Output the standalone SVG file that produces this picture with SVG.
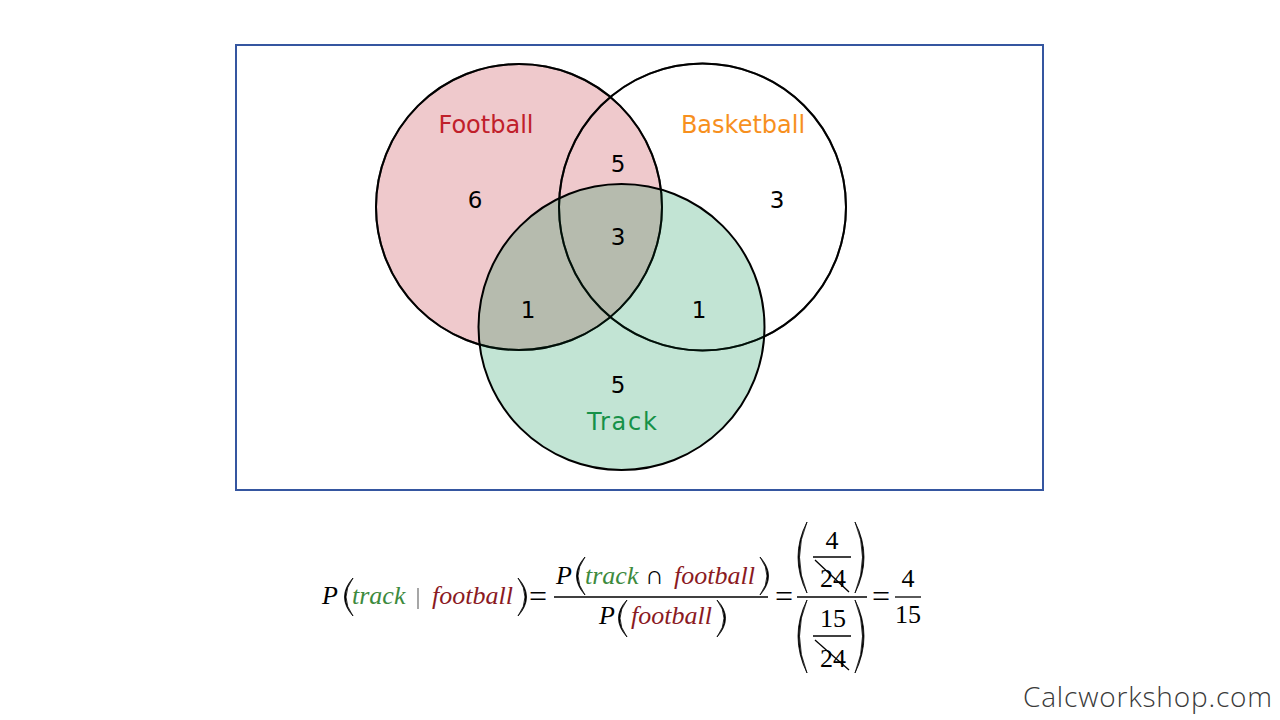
<svg xmlns="http://www.w3.org/2000/svg" width="1280" height="720" viewBox="0 0 1280 720">
<style>
.lbl{font-family:"DejaVu Sans","Liberation Sans",sans-serif;font-size:24px;text-anchor:middle}
.num{font-family:"DejaVu Sans","Liberation Sans",sans-serif;font-size:23px;fill:#000;text-anchor:middle}
.m{font-family:"Liberation Serif","DejaVu Serif",serif;font-size:26px;fill:#000}
.eq{font-family:"Liberation Serif","DejaVu Serif",serif;font-size:32px;fill:#000}
.i{font-style:italic}
.g{fill:#3d8a3d}
.r{fill:#8b1a1f}
.ctr{text-anchor:middle}
.bar{stroke:#000;stroke-width:1.3}
.par{fill:#000;stroke:#000;stroke-width:0.8;stroke-linejoin:round}
.circ{stroke:#000;stroke-width:2}
</style>
<rect width="1280" height="720" fill="#fff"/>
<g id="universe"><rect x="236" y="45" width="807" height="445" fill="none" stroke="#3556a0" stroke-width="2"/></g>
<g id="football"><circle cx="519" cy="207" r="143" fill="#efc9cc" class="circ"/></g>
<g id="basketball"><circle cx="702.5" cy="207" r="143.5" fill="none" class="circ"/></g>
<g id="track"><circle cx="621.5" cy="327" r="143" fill="#0c9454" fill-opacity="0.25" class="circ"/></g>
<g id="outlines">
<circle cx="519" cy="207" r="143" stroke="#000" stroke-width="2" fill="none" stroke-opacity="0.6"/>
<circle cx="702.5" cy="207" r="143.5" stroke="#000" stroke-width="2" fill="none" stroke-opacity="0.6"/>
</g>
<g id="labels">
<text class="lbl" x="486" y="133" fill="#c0202a">Football</text>
<text class="lbl" x="743" y="133" fill="#f7901e">Basketball</text>
<text class="lbl" x="622" y="430" fill="#169148" textLength="70">Track</text>
<text class="num" x="475" y="208">6</text>
<text class="num" x="618" y="172">5</text>
<text class="num" x="618" y="245">3</text>
<text class="num" x="777" y="208">3</text>
<text class="num" x="528" y="318">1</text>
<text class="num" x="699" y="318">1</text>
<text class="num" x="618" y="393">5</text>
</g>
<g id="formula">
<text class="m i" x="322" y="604">P</text>
<path class="par" d="M353,578 Q336,597 353,616 Q339,597 353,578 Z"/>
<text class="m i g" x="352" y="604">track</text>
<line x1="418" y1="588" x2="418" y2="609" stroke="#777" stroke-width="1.3"/>
<text class="m i r" x="432" y="604">football</text>
<path class="par" d="M518,578 Q535,597 518,616 Q532,597 518,578 Z"/>
<text class="eq" x="529" y="607">=</text>
<line class="bar" x1="554" y1="597" x2="768" y2="597"/>
<text class="m i" x="556" y="584">P</text>
<path class="par" d="M585,557 Q568,576 585,595 Q571,576 585,557 Z"/>
<text class="m i g" x="585" y="584">track</text>
<text class="m" x="645" y="584" font-size="28">∩</text>
<text class="m i r" x="674" y="584">football</text>
<path class="par" d="M760,557 Q777,576 760,595 Q774,576 760,557 Z"/>
<text class="m i" x="599" y="624">P</text>
<path class="par" d="M627,600 Q610,618 627,637 Q613,618 627,600 Z"/>
<text class="m i r" x="631" y="624">football</text>
<path class="par" d="M717,600 Q734,618 717,637 Q731,618 717,600 Z"/>
<text class="eq" x="775" y="607">=</text>
<line class="bar" x1="797" y1="597" x2="867" y2="597"/>
<path class="par" d="M807,522 Q789,557 807,593 Q792,557 807,522 Z"/>
<path class="par" d="M855,522 Q873,557 855,593 Q870,557 855,522 Z"/>
<text class="m ctr" x="832" y="549">4</text>
<line class="bar" x1="813" y1="557" x2="851" y2="557"/>
<text class="m ctr" x="833" y="587">24</text>
<line class="bar" x1="815" y1="560" x2="849" y2="592"/>
<path class="par" d="M807,600 Q789,636 807,673 Q792,636 807,600 Z"/>
<path class="par" d="M855,600 Q873,636 855,673 Q870,636 855,600 Z"/>
<text class="m ctr" x="833" y="627">15</text>
<line class="bar" x1="813" y1="636" x2="851" y2="636"/>
<text class="m ctr" x="833" y="667">24</text>
<line class="bar" x1="815" y1="640" x2="849" y2="670"/>
<text class="eq" x="872" y="607">=</text>
<text class="m ctr" x="908" y="587">4</text>
<line class="bar" x1="895" y1="597" x2="921" y2="597"/>
<text class="m ctr" x="908" y="623">15</text>
</g>
<g id="watermark"><text x="1023" y="707" textLength="249" font-family="'Open Sans','Liberation Sans',sans-serif" font-size="28" font-weight="300" fill="#3a3a3a">Calcworkshop.com</text></g>
</svg>
